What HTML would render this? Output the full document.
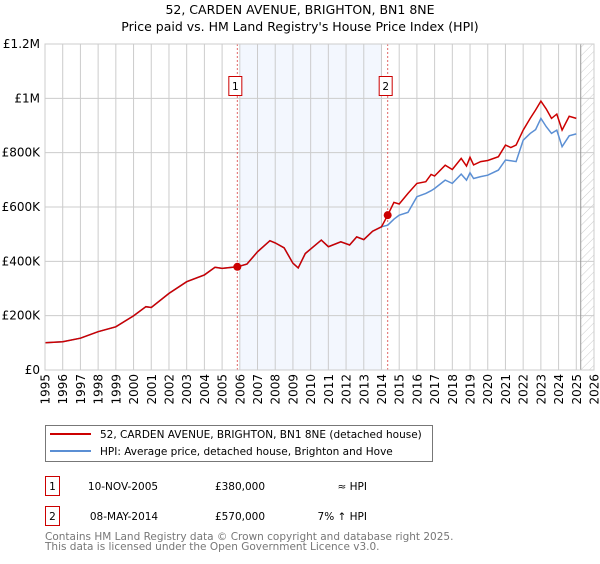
<!DOCTYPE html>
<html><head><meta charset="utf-8"><style>
body{margin:0;background:#fff;width:600px;height:560px;overflow:hidden;font-family:"DejaVu Sans","Liberation Sans",sans-serif;}
svg text{font-family:"DejaVu Sans","Liberation Sans",sans-serif;}
</style></head><body>
<svg id="chart" width="600" height="560">
<defs><pattern id="hatch" patternUnits="userSpaceOnUse" width="6" height="6" patternTransform="rotate(45)"><line x1="0" y1="0" x2="0" y2="6" stroke="#ccc" stroke-width="1"/></pattern></defs>
<text x="300" y="14" text-anchor="middle" font-size="12.5" fill="#000">52, CARDEN AVENUE, BRIGHTON, BN1 8NE</text>
<text x="300" y="31" text-anchor="middle" font-size="12.5" fill="#000">Price paid vs. HM Land Registry's House Price Index (HPI)</text>
<g id="plot"></g>
<g>
<rect x="45.5" y="425.5" width="387" height="36" fill="#fff" stroke="#777"/>
<line x1="50" y1="434" x2="91" y2="434" stroke="#cc0000" stroke-width="2"/>
<text x="100" y="438" font-size="10.5">52, CARDEN AVENUE, BRIGHTON, BN1 8NE (detached house)</text>
<line x1="50" y1="451" x2="91" y2="451" stroke="#5b8fd4" stroke-width="2"/>
<text x="100" y="455" font-size="10.5">HPI: Average price, detached house, Brighton and Hove</text>
</g>
<g font-size="10.5">
<rect x="45.5" y="476.5" width="14" height="19" fill="#fff" stroke="#cc0000"/>
<text x="52.5" y="490" text-anchor="middle">1</text>
<text x="123" y="490" text-anchor="middle">10-NOV-2005</text>
<text x="240" y="490" text-anchor="middle">£380,000</text>
<text x="367" y="490" text-anchor="end">≈ HPI</text>
<rect x="45.5" y="506.5" width="14" height="19" fill="#fff" stroke="#cc0000"/>
<text x="52.5" y="520" text-anchor="middle">2</text>
<text x="124" y="520" text-anchor="middle">08-MAY-2014</text>
<text x="240" y="520" text-anchor="middle">£570,000</text>
<text x="367" y="520" text-anchor="end">7% ↑ HPI</text>
</g>
<text x="45" y="540" font-size="10.5" fill="#777">Contains HM Land Registry data © Crown copyright and database right 2025.</text>
<text x="45" y="550" font-size="10.5" fill="#777">This data is licensed under the Open Government Licence v3.0.</text>
</svg>
<script>
const years=[1995,1996,1997,1998,1999,2000,2000.7,2001,2002,2003,2004,2004.6,2005,2005.86,2006.4,2007,2007.7,2008,2008.5,2009,2009.3,2009.7,2010,2010.6,2011,2011.7,2012.2,2012.6,2013,2013.5,2014,2014.35,2014.7,2015,2015.5,2016,2016.5,2016.8,2017,2017.6,2018,2018.5,2018.8,2019,2019.2,2019.6,2020,2020.6,2021,2021.3,2021.6,2022,2022.4,2022.7,2023,2023.3,2023.6,2023.9,2024.2,2024.6,2025];
const hpiValues=[100,104,117,141,159,199,233,230,282,325,350,378,374,380,390,435,476,468,450,393,376,429,445,478,454,472,460,490,480,511,527,533,555,570,580,638,650,660,668,699,687,721,699,726,705,712,717,736,773,770,767,846,871,885,926,896,871,883,822,862,869];
const priceValues=[100,104,117,141,159,199,233,230,282,325,350,378,374,380,390,435,476,468,450,393,376,429,445,478,454,472,460,490,480,511,527,570,617,611,650,687,693,720,714,754,738,779,751,783,755,767,771,785,828,819,828,883,926,957,990,961,926,942,883,934,926];
const yTicks=[0,200,400,600,800,1000,1200];
const yTickLabels=["£0","£200K","£400K","£600K","£800K","£1M","£1.2M"];
const xTicks=[1995,1996,1997,1998,1999,2000,2001,2002,2003,2004,2005,2006,2007,2008,2009,2010,2011,2012,2013,2014,2015,2016,2017,2018,2019,2020,2021,2022,2023,2024,2025,2026];
const saleYears=[2005.86,2014.35];
const saleValues=[380,570];
const saleLabels=["1","2"];

const X0=45,X1=594,Y0=370,Y1=44;
const x=y=>X0+(y-1995)/(2026-1995)*(X1-X0);
const yv=v=>Y0-v/1200*(Y0-Y1);
const NS="http://www.w3.org/2000/svg";
const g=document.getElementById('plot');
function mk(t,a){const e=document.createElementNS(NS,t);for(const k in a)e.setAttribute(k,a[k]);g.appendChild(e);return e;}

let e=mk('rect',{x:x(2006),y:Y1,width:x(2014)-x(2006),height:Y0-Y1,fill:'#eef3fd',opacity:0.7});


e=mk('rect',{x:x(2025.25),y:Y1,width:X1-x(2025.25),height:Y0-Y1,fill:'url(#hatch)'});


xTicks.forEach(t=>{
 const l=mk('line',{x1:x(t),x2:x(t),y1:Y1,y2:Y0,stroke:'#ccc','stroke-width':1});
 
 
 const tx=mk('text',{x:0,y:0,'font-size':12,'text-anchor':'end',transform:`translate(${x(t)+4.5},${Y0+4}) rotate(-90)`});
 tx.textContent=t;
 
 
});
yTicks.forEach((t,i)=>{
 const l=mk('line',{x1:X0,x2:X1,y1:yv(t),y2:yv(t),stroke:'#ccc','stroke-width':1});
 
 
 const tx=mk('text',{x:X0-5,y:yv(t)+4,'font-size':12,'text-anchor':'end'});
 tx.textContent=yTickLabels[i];
 
 
});
e=mk('line',{x1:x(2025.25),x2:x(2025.25),y1:Y1,y2:Y0,stroke:'#999','stroke-width':1});


saleYears.forEach((s,i)=>{
 const l=mk('line',{x1:x(s),x2:x(s),y1:Y1,y2:Y0,stroke:'#e06666','stroke-width':1,'stroke-dasharray':'2,2'});
 
 
 const r=mk('rect',{x:x(s)-8.5,y:76.5,width:13,height:19,fill:'#fff',stroke:'#cc0000'});
 
 
 const tx=mk('text',{x:x(s)-2,y:90,'font-size':10.5,'text-anchor':'middle'});
 tx.textContent=saleLabels[i];
 
 
});
const pts=a=>a.map((v,i)=>x(years[i]).toFixed(1)+','+yv(v).toFixed(1)).join(' ');
e=mk('polyline',{points:pts(hpiValues),fill:'none',stroke:'#5b8fd4','stroke-width':1.5});


e=mk('polyline',{points:pts(priceValues),fill:'none',stroke:'#cc0000','stroke-width':1.5});


saleYears.forEach((s,i)=>{
 const c=mk('circle',{cx:x(s),cy:yv(saleValues[i]),r:4,fill:'#cc0000'});
 
 
});
e=mk('rect',{x:X0,y:Y1,width:X1-X0,height:Y0-Y1,fill:'none',stroke:'#ccc'});


</script>
</body></html>
